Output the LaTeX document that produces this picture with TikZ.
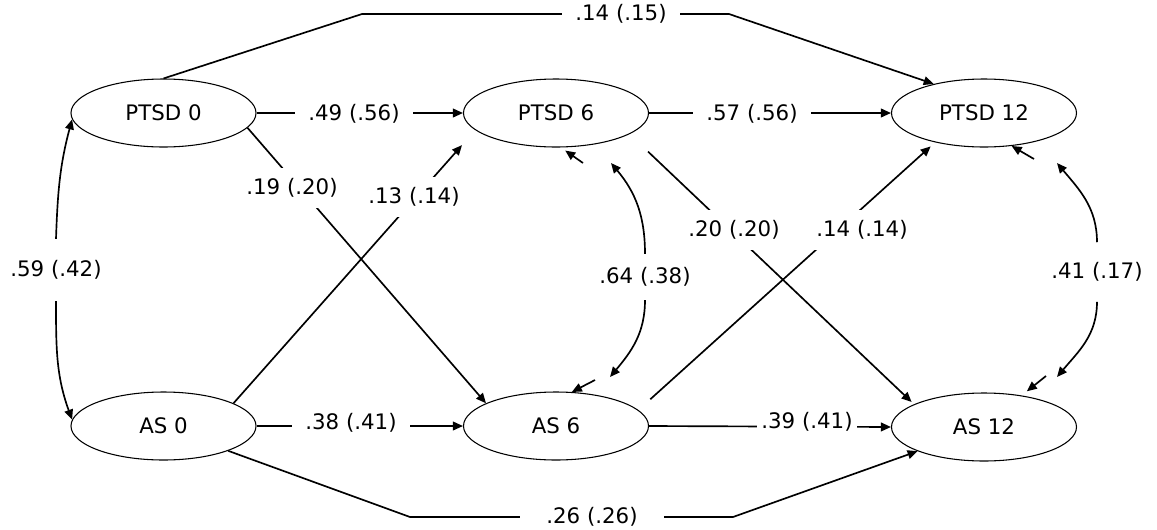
\documentclass[tikz,border=0pt]{standalone}
\usepackage{fontspec}
\setmainfont{DejaVu Sans}
\usetikzlibrary{arrows.meta, shapes.geometric}

\begin{document}
\begin{tikzpicture}[
    x=0.75pt, y=-0.75pt,
    measure/.style={ellipse, draw, line width=0.8pt, minimum width=138.75pt, minimum height=51pt, inner sep=0pt, font=\fontsize{16}{19}\selectfont},
    coef/.style={fill=white, inner xsep=10pt, inner ysep=8pt, font=\fontsize{16}{19}\selectfont},
    arrow/.style={-{Triangle[length=7.5pt, width=6.5pt]}, line width=1.25pt}
]
\useasboundingbox (0,0) rectangle (1157,529);

% Measures at baseline, 6 and 12 months
\node[measure] (p0) at (163.5,113) {PTSD 0};
\node[measure] (p6) at (556,113) {PTSD 6};
\node[measure] (p12) at (984,113) {PTSD 12};
\node[measure] (a0) at (163.5,426) {AS 0};
\node[measure] (a6) at (556,426) {AS 6};
\node[measure] (a12) at (984,427) {AS 12};

% Bends of the long paths
\coordinate (t1) at (362,14);
\coordinate (t2) at (729,14);
\coordinate (b1) at (410,517);
\coordinate (b2) at (733,517);

% Autoregressive paths
\draw[arrow] (p0.east) -- (p6.west);
\draw[arrow] (p6.east) -- (p12.west);
\draw[arrow] (a0.east) -- (a6.west);
\draw[arrow] (a6.east) -- (a12.west);
\draw[arrow] (p0.north) -- (t1) -- (t2) -- (p12.150);
\draw[arrow] (a0.-21) -- (b1) -- (b2) -- (a12.200);

% Cross-lagged paths
\draw[arrow] (p0.-10) -- (a6.162);
\draw[arrow, shorten >=15pt] (a0.18) -- (p6.192);
\draw[arrow, shorten <=19pt, shorten >=2.5pt] (p6.-16) -- (a12.162);
\draw[arrow, shorten <=12pt, shorten >=4.5pt] (a6.11) -- (p12.211);

% Coefficients
\node[coef] (l1415) at (621,14) {.14 (.15)};
\node[coef] (l49) at (354,114) {.49 (.56)};
\node[coef] (l57) at (752,114) {.57 (.56)};
\node[coef] (l19) at (292,188) {.19 (.20)};
\node[coef] (l13) at (414,197) {.13 (.14)};
\node[coef] (l20) at (734,230) {.20 (.20)};
\node[coef] (l1414) at (862,230) {.14 (.14)};
\node[coef] (l38) at (351,423) {.38 (.41)};
\node[coef, inner xsep=3pt] (l39) at (807,422) {.39 (.41)};
\node[coef, inner xsep=20pt] (l26) at (592,517) {.26 (.26)};
\node[coef, inner ysep=16pt] (l59) at (56,270) {.59 (.42)};
\node[coef, inner ysep=10pt] (l64) at (645,277) {.64 (.38)};
\node[coef, inner ysep=15pt] (l41) at (1097,272) {.41 (.17)};

% Correlations
\coordinate (m1) at (611,163);
\coordinate (m2) at (610,377);
\coordinate (r1) at (1057,163);
\coordinate (r2) at (1057,377);
\draw[arrow] (l59.north) to[out=88, in=-105] (p0.184);
\draw[arrow] (l59.south) to[out=-90, in=110] (a0.176);
\draw[arrow] (l64.north) to[out=90, in=-50] (m1);
\draw[arrow] (l64.south) to[out=-90, in=50] (m2);
\draw[arrow] (l41.north) to[out=90, in=-50] (r1);
\draw[arrow] (l41.south) to[out=-90, in=50] (r2);

% Short heads at the ellipses
\coordinate (m3) at (583,163);
\coordinate (m4) at (595,380);
\coordinate (r3) at (1034,159);
\coordinate (r4) at (1046,376);
\draw[arrow, shorten >=4pt] (m3) -- (p6.-82);
\draw[arrow] (m4) -- (a6.65);
\draw[arrow] (r3) -- (p12.-50);
\draw[arrow, shorten >=5pt] (r4) -- (a12.40);

\end{tikzpicture}
\end{document}
